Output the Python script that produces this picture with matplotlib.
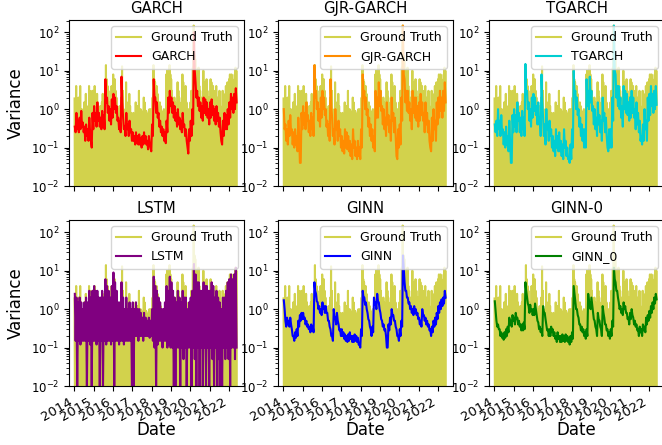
import numpy as np
import pandas as pd
import matplotlib
matplotlib.use('Agg')
import matplotlib.pyplot as plt
import matplotlib.dates as mdates

# ---------------- data ----------------
titles = ['GARCH', 'GJR-GARCH', 'TGARCH', 'LSTM', 'GINN', 'GINN-0']
labels = ['GARCH', 'GJR-GARCH', 'TGARCH', 'LSTM', 'GINN', 'GINN_0']
colors = ['red', 'darkorange', 'darkturquoise', 'purple', 'blue', 'green']
year_ticks = ['2014', '2015', '2016', '2017', '2018', '2019', '2020', '2021', '2022']

# Ground truth: half-monthly peaks and troughs (Jan 2014 .. May 2022)
gt_peak = [
    1.9, 0.8, 4, 1.2, 0.9, 2, 1.5, 4, 0.6, 1, 0.5, 0.8, 1.5, 0.7, 2.5, 1, 0.9, 1.2, 4, 3, 0.8, 0.6, 3, 2,
    3, 4, 1.5, 0.8, 2.5, 1.5, 1, 0.9, 1.2, 0.8, 1.5, 2.5, 1.8, 1, 1.5, 14, 6, 4, 3, 1.5, 1.2, 1.5, 4, 3,
    8, 5, 6, 3, 2, 1, 1, 0.9, 1.2, 0.8, 2, 13, 3, 1, 0.6, 0.8, 5, 1.5, 0.8, 1, 2.5, 1.2, 0.8, 0.6,
    0.7, 0.8, 0.6, 0.7, 1.5, 1, 1.2, 0.9, 3, 0.8, 1, 0.9, 0.7, 0.6, 2, 1.5, 0.8, 0.9, 0.6, 0.5, 0.8, 1, 0.7, 1,
    1, 2, 14, 6, 5, 3, 4, 2.5, 1.5, 1, 1.5, 1.2, 0.9, 0.8, 0.8, 1, 0.7, 0.9, 8, 10, 6, 4, 14, 8,
    6, 3, 1.5, 1, 2, 1.5, 0.8, 1, 5, 3, 2, 1, 0.8, 1.5, 8, 5, 2, 1.5, 4, 1.5, 0.8, 0.7, 1, 0.8,
    1.5, 3, 1, 12, 150, 25, 20, 10, 5, 4, 12, 4, 3, 2, 1.5, 2, 10, 5, 4, 5, 6, 3, 2, 1.5,
    2, 6, 5, 4, 4, 3, 1, 1.5, 4, 2, 1.5, 1, 3, 1.2, 0.8, 1, 3, 2.5, 2, 1.5, 4, 2, 5, 3,
    6, 8, 5, 8, 6, 4, 5, 8, 12, 10]
gt_low = [
    0.002, 0.002, 0.002, 0.002, 0.002, 0.002, 0.002, 0.002, 0.002, 0.002, 0.002, 0.002,
    0.002, 0.002, 0.002, 0.002, 0.002, 0.002, 0.002, 0.002, 0.002, 0.002, 0.002, 0.002,
    0.002, 0.002, 0.002, 0.002, 0.002, 0.03, 0.002, 0.002, 0.002, 0.002, 0.002, 0.002,
    0.002, 0.002, 0.002, 0.002, 0.002, 0.002, 0.002, 0.002, 0.002, 0.002, 0.002, 0.002,
    0.002, 0.002, 0.002, 0.002, 0.002, 0.002, 0.002, 0.002, 0.002, 0.002, 0.002, 0.002,
    0.002, 0.002, 0.002, 0.002, 0.002, 0.002, 0.002, 0.03, 0.002, 0.002, 0.002, 0.002,
    0.002, 0.002, 0.002, 0.002, 0.002, 0.002, 0.002, 0.002, 0.002, 0.002, 0.002, 0.002,
    0.002, 0.002, 0.002, 0.002, 0.002, 0.002, 0.002, 0.002, 0.002, 0.002, 0.002, 0.002,
    0.002, 0.002, 0.002, 0.002, 0.002, 0.002, 0.002, 0.002, 0.002, 0.002, 0.002, 0.002,
    0.002, 0.002, 0.002, 0.002, 0.002, 0.002, 0.02, 0.002, 0.002, 0.002, 0.002, 0.002,
    0.002, 0.002, 0.002, 0.002, 0.002, 0.002, 0.002, 0.002, 0.002, 0.002, 0.002, 0.002,
    0.002, 0.002, 0.002, 0.002, 0.002, 0.002, 0.002, 0.002, 0.002, 0.002, 0.002, 0.002,
    0.002, 0.002, 0.002, 0.002, 0.1, 0.12, 0.002, 0.03, 0.002, 0.002, 0.002, 0.002,
    0.002, 0.002, 0.002, 0.002, 0.002, 0.002, 0.002, 0.002, 0.002, 0.002, 0.002, 0.002,
    0.002, 0.002, 0.002, 0.002, 0.002, 0.002, 0.002, 0.002, 0.002, 0.002, 0.002, 0.002,
    0.002, 0.002, 0.002, 0.002, 0.002, 0.002, 0.002, 0.002, 0.002, 0.002, 0.002, 0.002,
    0.002, 0.002, 0.002, 0.002, 0.002, 0.002, 0.002, 0.002, 0.002, 0.002]

# Monthly model estimates (Jan 2014 .. May 2022): upper and lower edge of each band
garch_hi = [
    0.35, 0.8, 0.5, 0.6, 0.9, 0.45, 0.35, 0.4, 0.3, 0.6, 0.15, 0.8,
    1.2, 0.8, 1.5, 0.8, 0.6, 0.9, 0.7, 6, 2, 1.2, 1, 1.8,
    2.5, 2, 1.2, 0.6, 0.5, 7, 0.6, 0.35, 0.8, 0.4, 0.5, 0.3,
    0.25, 0.2, 0.25, 0.2, 0.22, 0.18, 0.2, 0.25, 0.2, 0.15, 0.2, 0.1,
    0.4, 6, 2, 1.5, 0.8, 0.5, 0.35, 0.3, 0.25, 0.5, 2, 3,
    2, 1.5, 1.2, 0.8, 1, 0.6, 0.5, 0.8, 0.4, 0.3, 0.1, 0.3,
    0.5, 1, 100, 5, 3, 2, 1.5, 1.2, 2, 1.8, 1.5, 1,
    1.5, 1.8, 1.2, 1.0, 1.2, 0.8, 0.6, 0.15, 0.5, 0.8, 0.7, 1.0,
    1.5, 2.5, 2, 2.5, 3.5]
garch_lo = [
    0.25, 0.3, 0.25, 0.3, 0.35, 0.25, 0.15, 0.2, 0.15, 0.25, 0.1, 0.3,
    0.5, 0.35, 0.5, 0.35, 0.3, 0.35, 0.3, 1.5, 0.8, 0.5, 0.4, 0.6,
    1.0, 0.8, 0.5, 0.3, 0.25, 1.5, 0.3, 0.2, 0.3, 0.2, 0.25, 0.15,
    0.15, 0.12, 0.13, 0.12, 0.12, 0.1, 0.12, 0.13, 0.12, 0.09, 0.12, 0.08,
    0.2, 2, 0.8, 0.6, 0.35, 0.25, 0.2, 0.15, 0.13, 0.25, 0.8, 1.2,
    0.8, 0.6, 0.5, 0.35, 0.4, 0.3, 0.25, 0.35, 0.2, 0.15, 0.07, 0.15,
    0.2, 0.4, 10, 2, 1.2, 0.9, 0.6, 0.5, 0.8, 0.7, 0.6, 0.4,
    0.6, 0.7, 0.5, 0.4, 0.5, 0.35, 0.25, 0.12, 0.2, 0.3, 0.3, 0.4,
    0.6, 1.0, 0.8, 1.0, 1.5]
gjr_hi = [
    1.0, 0.4, 0.3, 0.5, 0.7, 0.3, 0.25, 0.3, 0.2, 0.6, 0.04, 0.8,
    1.2, 0.8, 1.5, 0.7, 0.5, 0.8, 0.6, 14, 3, 1.5, 1, 2,
    3, 2, 1, 0.5, 0.4, 6, 0.6, 0.3, 1, 0.4, 0.5, 0.3,
    0.2, 0.15, 0.3, 0.25, 0.2, 0.15, 0.12, 0.3, 0.15, 0.1, 0.15, 0.1,
    0.3, 8, 3, 2, 1, 0.6, 0.4, 0.3, 0.2, 3, 2, 5,
    3, 1.2, 1, 0.6, 1.5, 0.7, 0.5, 2, 0.8, 0.6, 0.06, 0.3,
    0.4, 2, 150, 6, 3, 3, 1.5, 1, 3, 2, 2, 1.2,
    1.5, 2.5, 1.5, 0.8, 1.5, 0.8, 0.5, 0.1, 0.6, 1, 0.5, 1.5,
    2, 3, 2, 3, 5]
gjr_lo = [
    0.3, 0.15, 0.12, 0.2, 0.25, 0.12, 0.1, 0.12, 0.08, 0.2, 0.04, 0.3,
    0.4, 0.3, 0.5, 0.25, 0.2, 0.3, 0.2, 2, 1, 0.5, 0.35, 0.6,
    1, 0.7, 0.35, 0.2, 0.15, 1.2, 0.2, 0.12, 0.3, 0.15, 0.2, 0.1,
    0.08, 0.07, 0.1, 0.09, 0.08, 0.06, 0.05, 0.1, 0.06, 0.05, 0.06, 0.05,
    0.1, 2, 1, 0.7, 0.35, 0.2, 0.15, 0.1, 0.08, 0.6, 0.6, 1.2,
    0.9, 0.4, 0.3, 0.2, 0.4, 0.25, 0.15, 0.5, 0.25, 0.2, 0.05, 0.1,
    0.12, 0.5, 8, 1.5, 0.9, 0.8, 0.5, 0.3, 0.8, 0.6, 0.5, 0.35,
    0.5, 0.7, 0.5, 0.25, 0.4, 0.25, 0.15, 0.08, 0.15, 0.3, 0.15, 0.4,
    0.6, 0.9, 0.6, 0.9, 1.5]
tgarch_hi = [
    0.4, 0.5, 1.0, 0.5, 0.7, 0.3, 0.25, 0.35, 0.2, 0.5, 0.04, 0.7,
    1, 0.7, 1.5, 0.8, 0.6, 0.9, 0.6, 15, 3, 1.5, 1, 2,
    2.5, 2, 1.2, 1.5, 0.6, 8, 0.6, 0.4, 1, 0.4, 0.5, 0.3,
    0.2, 0.15, 0.3, 0.2, 0.25, 0.15, 0.12, 0.3, 0.15, 0.1, 0.05, 0.12,
    0.3, 10, 3, 2, 1, 0.6, 0.4, 0.3, 0.3, 6, 3, 7,
    3, 1.2, 1, 0.6, 1.5, 0.7, 0.5, 2, 0.8, 0.6, 0.1, 0.3,
    0.3, 2, 150, 8, 4, 4, 2, 1.2, 4, 3, 2.5, 1.5,
    2, 3, 2, 1, 1.5, 0.8, 0.5, 0.2, 0.4, 1, 0.5, 2,
    2.5, 4, 2.5, 3, 4]
tgarch_lo = [
    0.25, 0.2, 0.3, 0.2, 0.25, 0.12, 0.1, 0.12, 0.08, 0.15, 0.04, 0.25,
    0.35, 0.25, 0.5, 0.25, 0.2, 0.3, 0.2, 2.5, 1, 0.5, 0.35, 0.6,
    0.9, 0.7, 0.4, 0.4, 0.2, 1.5, 0.2, 0.12, 0.3, 0.15, 0.2, 0.1,
    0.08, 0.06, 0.1, 0.08, 0.08, 0.06, 0.05, 0.1, 0.06, 0.05, 0.04, 0.05,
    0.1, 2.5, 1, 0.7, 0.35, 0.2, 0.15, 0.1, 0.1, 1.2, 1, 1.5,
    0.9, 0.4, 0.3, 0.2, 0.4, 0.25, 0.15, 0.5, 0.25, 0.2, 0.08, 0.1,
    0.1, 0.5, 10, 2, 1.2, 1, 0.6, 0.35, 1, 0.8, 0.7, 0.5,
    0.6, 0.8, 0.6, 0.3, 0.4, 0.25, 0.15, 0.12, 0.15, 0.3, 0.15, 0.5,
    0.7, 1.2, 0.8, 1, 1.3]
lstm_hi = [
    2.5, 2, 1.5, 2, 1.5, 1, 1.5, 2, 1.5, 3, 2, 3,
    4, 3, 3, 2, 2, 3, 2, 6, 4, 3, 2, 4,
    9, 5, 3, 1.5, 1.5, 5, 2, 1, 2, 1, 1.5, 1,
    1.5, 1, 1.5, 1, 1, 0.8, 0.6, 0.8, 0.6, 0.5, 0.6, 0.5,
    1, 7, 4, 3, 2, 1.5, 1, 1, 1.5, 4, 3, 7,
    5, 3, 2, 1.5, 3, 2, 1.5, 3, 2, 2, 1, 1.5,
    2, 3, 15, 8, 5, 5, 3, 3, 5, 4, 4, 3,
    3, 5, 4, 2, 3, 2, 1.5, 1, 2, 2, 3, 5,
    6, 8, 6, 8, 12]
lstm_lo = [
    0.15, 0.01, 0.15, 0.12, 0.15, 0.15, 0.15, 0.008, 0.15, 0.12, 0.008, 0.15,
    0.15, 0.12, 0.15, 0.008, 0.15, 0.008, 0.15, 0.12, 0.15, 0.15, 0.12, 0.15,
    0.008, 0.15, 0.15, 0.12, 0.15, 0.15, 0.12, 0.15, 0.15, 0.15, 0.15, 0.008,
    0.008, 0.2, 0.2, 0.15, 0.2, 0.2, 0.15, 0.2, 0.2, 0.2, 0.18, 0.2,
    0.15, 0.1, 0.008, 0.12, 0.15, 0.15, 0.1, 0.15, 0.15, 0.1, 0.12, 0.1,
    0.1, 0.008, 0.008, 0.1, 0.1, 0.008, 0.1, 0.05, 0.1, 0.008, 0.1, 0.1,
    0.008, 0.1, 0.05, 0.008, 0.1, 0.008, 0.1, 0.008, 0.1, 0.008, 0.1, 0.008,
    0.1, 0.05, 0.008, 0.1, 0.008, 0.05, 0.008, 0.008, 0.1, 0.05, 0.1, 0.05,
    0.008, 0.1, 0.1, 0.05, 0.1]
ginn_hi = [
    1.7, 0.5, 0.6, 0.5, 0.6, 0.3, 0.2, 0.25, 0.3, 0.5, 0.7, 0.8,
    0.8, 0.6, 0.5, 0.4, 0.35, 0.4, 0.35, 5, 2.5, 1.5, 1.2, 1.0,
    1.5, 1.2, 1.2, 0.8, 0.5, 0.3, 0.2, 1.0, 0.6, 0.8, 0.4, 0.3,
    0.3, 0.25, 0.22, 0.2, 0.22, 0.25, 0.2, 0.2, 0.22, 0.2, 0.18, 0.12,
    0.3, 3, 2, 1.5, 0.8, 0.5, 0.3, 0.35, 2, 1.5, 2.5, 1.5,
    0.8, 0.5, 0.4, 0.3, 0.1, 0.4, 0.6, 1.0, 0.7, 0.5, 0.3, 0.2,
    0.3, 0.5, 25, 5, 3, 2, 1.5, 1.2, 1.0, 1.2, 1.0, 0.8,
    0.6, 0.5, 1.0, 0.7, 0.6, 0.5, 0.4, 0.3, 0.35, 0.5, 0.6, 0.8,
    1.2, 1.5, 1.8, 2.0, 3.0]
ginn_lo = [
    1.0, 0.35, 0.4, 0.35, 0.4, 0.2, 0.15, 0.18, 0.2, 0.35, 0.5, 0.55,
    0.55, 0.4, 0.35, 0.3, 0.25, 0.28, 0.25, 3, 1.6, 1.0, 0.8, 0.7,
    1.0, 0.8, 0.8, 0.5, 0.35, 0.2, 0.15, 0.6, 0.4, 0.5, 0.28, 0.2,
    0.2, 0.17, 0.15, 0.14, 0.15, 0.17, 0.14, 0.14, 0.15, 0.14, 0.12, 0.1,
    0.2, 2, 1.3, 1.0, 0.55, 0.35, 0.2, 0.25, 1.3, 1.0, 1.6, 1.0,
    0.55, 0.35, 0.28, 0.2, 0.1, 0.28, 0.4, 0.7, 0.5, 0.35, 0.2, 0.15,
    0.2, 0.35, 12, 3, 2, 1.4, 1.0, 0.8, 0.7, 0.8, 0.7, 0.55,
    0.4, 0.35, 0.7, 0.5, 0.4, 0.35, 0.28, 0.2, 0.25, 0.35, 0.4, 0.55,
    0.8, 1.0, 1.2, 1.4, 2.0]
ginn0_hi = [
    1.6, 0.5, 0.4, 0.3, 0.25, 0.22, 0.25, 0.3, 0.35, 0.6, 0.5, 0.7,
    0.6, 0.8, 0.6, 0.5, 0.4, 0.4, 0.45, 5, 2, 1.2, 1.3, 1.0,
    1.0, 1.4, 0.7, 0.45, 0.35, 0.3, 1.2, 0.8, 0.4, 0.3, 0.3, 0.35,
    0.3, 0.25, 0.2, 0.25, 0.2, 0.2, 0.22, 0.2, 0.22, 0.2, 0.18, 0.2,
    0.25, 4, 1.5, 1.0, 0.6, 0.4, 0.35, 0.3, 0.25, 0.3, 2.5, 1.5,
    2, 0.8, 0.5, 0.3, 0.8, 0.5, 0.3, 1.2, 0.6, 0.4, 0.3, 0.25,
    0.3, 0.5, 12, 5, 3, 1.5, 1.2, 1.0, 1.5, 1.2, 0.8, 0.6,
    0.8, 1.0, 0.6, 0.5, 0.4, 0.3, 0.35, 0.3, 0.4, 0.35, 0.6, 0.7,
    0.9, 1.2, 1.5, 2, 2.5]
ginn0_lo = [
    0.9, 0.35, 0.3, 0.2, 0.18, 0.16, 0.18, 0.2, 0.25, 0.4, 0.35, 0.5,
    0.4, 0.55, 0.4, 0.35, 0.28, 0.28, 0.3, 3, 1.4, 0.8, 0.9, 0.7,
    0.7, 1.0, 0.5, 0.3, 0.25, 0.2, 0.8, 0.55, 0.28, 0.2, 0.2, 0.25,
    0.2, 0.17, 0.14, 0.17, 0.14, 0.14, 0.15, 0.14, 0.15, 0.14, 0.12, 0.14,
    0.17, 2.5, 1.0, 0.7, 0.4, 0.28, 0.25, 0.2, 0.17, 0.2, 1.6, 1.0,
    1.3, 0.55, 0.35, 0.2, 0.55, 0.35, 0.2, 0.8, 0.4, 0.28, 0.2, 0.17,
    0.2, 0.35, 6, 3, 2, 1.0, 0.8, 0.7, 1.0, 0.8, 0.55, 0.4,
    0.55, 0.7, 0.4, 0.35, 0.28, 0.2, 0.25, 0.2, 0.28, 0.25, 0.4, 0.5,
    0.6, 0.8, 1.0, 1.4, 1.8]


def interleave(hi, lo):
    out = np.empty(2 * len(hi))
    out[0::2] = hi
    out[1::2] = lo
    return out


# ---------------- build series ----------------
gt_dates = pd.date_range('2014-01-03', '2022-05-31', periods=2 * len(gt_peak))
gt = interleave(gt_peak, gt_low)
band_dates = pd.date_range('2014-01-08', '2022-05-28', periods=2 * len(garch_hi))

series = [interleave(garch_hi, garch_lo), interleave(gjr_hi, gjr_lo),
          interleave(tgarch_hi, tgarch_lo), interleave(lstm_hi, lstm_lo),
          interleave(ginn_hi, ginn_lo), interleave(ginn0_hi, ginn0_lo)]

# ---------------- figure ----------------
W, H = 662, 445
fig = plt.figure(figsize=(W / 100, H / 100), dpi=100)
col_left = [69, 278, 489]
row_top = [20, 220]
aw, ah = 175, 166

xlim = (pd.Timestamp('2013-09-20'), pd.Timestamp('2022-10-15'))

for i in range(6):
    r, c = divmod(i, 3)
    ax = fig.add_axes([col_left[c] / W, (H - row_top[r] - ah) / H, aw / W, ah / H])
    ax.plot(gt_dates, gt, color='y', alpha=0.7, lw=1.5, label='Ground Truth')
    ax.plot(band_dates, series[i], color=colors[i], lw=1.5, label=labels[i])
    ax.set_yscale('log')
    ax.set_ylim(1e-2, 10 ** 2.32)
    ax.set_xlim(*xlim)
    ax.xaxis.set_major_locator(mdates.YearLocator(1))
    ax.xaxis.set_major_formatter(mdates.DateFormatter('%Y'))
    ax.set_title(titles[i], fontsize=10.7, pad=5)
    ax.tick_params(labelsize=8.5)
    ax.legend(loc='upper right', fontsize=9)
    if c == 0:
        ax.set_ylabel('Variance', fontsize=12)
    if r == 0:
        ax.tick_params(labelbottom=False)
    else:
        ax.set_xticks([pd.Timestamp(y + '-01-01') for y in year_ticks])
        ax.set_xticklabels(year_ticks)
        plt.setp(ax.get_xticklabels(), rotation=30, ha='right', fontsize=9.5)
        ax.set_xlabel('Date', fontsize=12, labelpad=-2)

fig.savefig('out.png', dpi=100)
